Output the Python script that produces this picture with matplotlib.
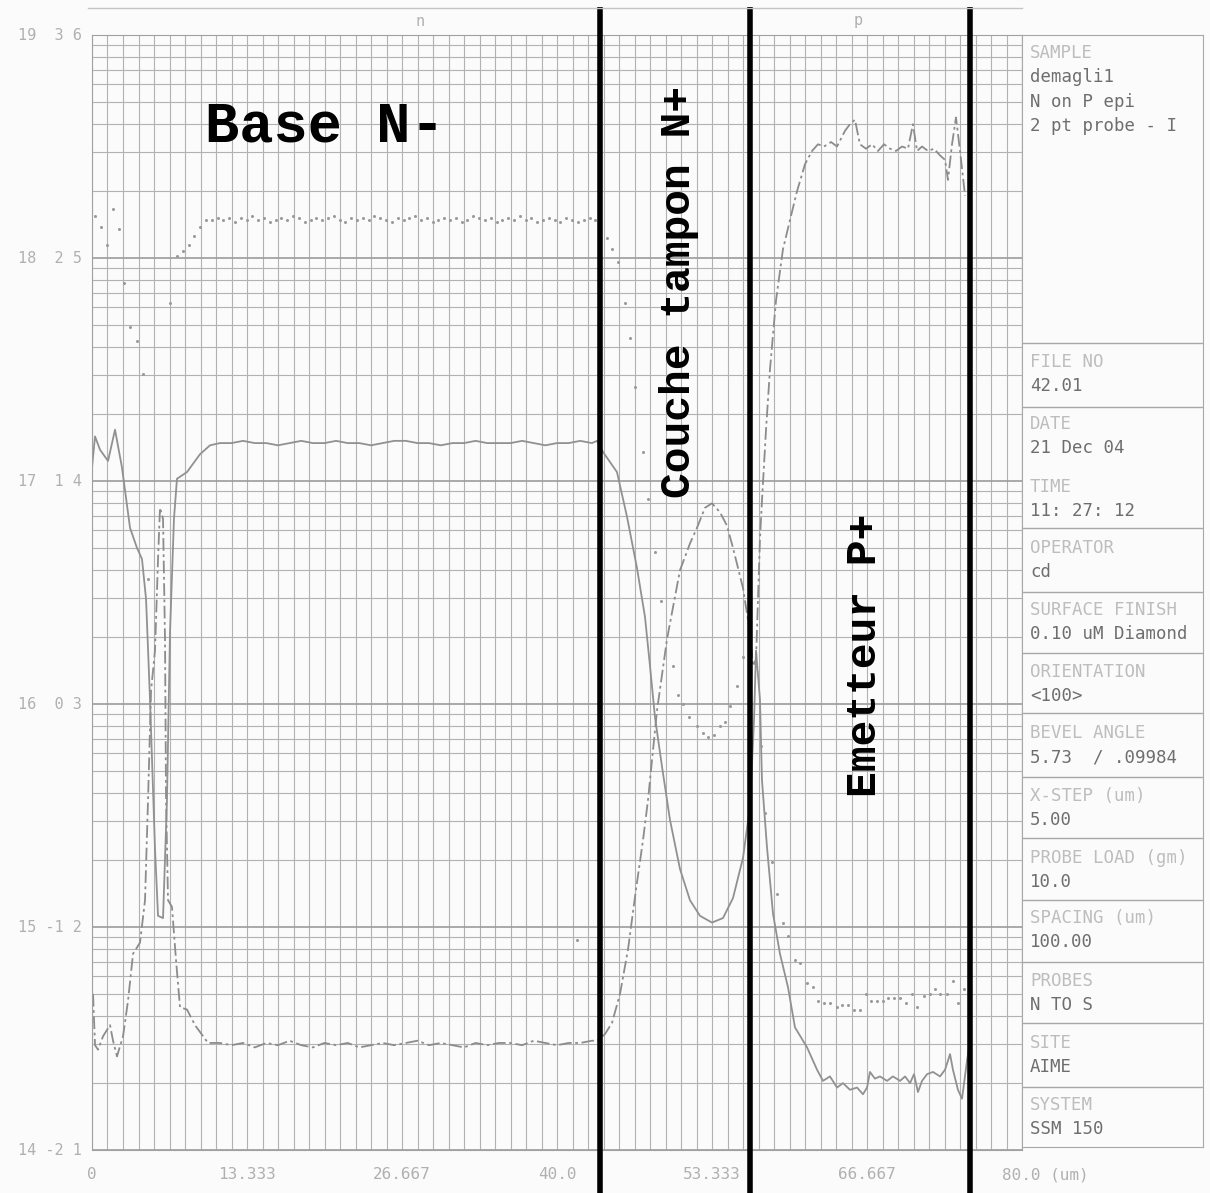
import numpy as np
import matplotlib
matplotlib.use("Agg")
import matplotlib.pyplot as plt
from matplotlib.ticker import FixedLocator, LogLocator, NullFormatter
import matplotlib.transforms as mtrans

# ---- data (x in um, y as log10 of concentration) ----
solid_x = [0, 0.26, 0.69, 1.38, 1.98, 2.58, 3.27, 3.87, 4.30, 4.65, 4.99, 5.42, 5.68, 6.11,
           6.45, 6.71, 7.05, 7.31, 8.17, 9.29, 10.15,
           11, 12, 13, 14, 15, 16, 17, 18, 19, 20, 21, 22, 23, 24, 25, 26, 27, 28, 29, 30,
           31, 32, 33, 34, 35, 36, 37, 38, 39, 40, 41, 42, 43,
           43.44, 43.96, 45.16, 46.02, 46.88, 47.57, 48.0, 48.43, 49.03, 49.72,
           50.58, 51.44, 52.30, 53.33, 54.28, 55.14, 56.0, 56.6, 56.95, 57.12,
           57.46, 57.63, 58.06, 58.58, 59.18, 59.87, 60.47, 61.51, 62.37, 62.88,
           63.48, 64.09, 64.60, 65.20, 65.81, 66.32, 66.67, 66.92, 67.35, 67.78,
           68.39, 68.90, 69.51, 69.94, 70.37, 70.71, 71.05, 71.40, 71.83, 72.34,
           72.95, 73.38, 73.81, 74.06, 74.49, 74.84, 75.27, 75.53]
solid_y = [17.06, 17.20, 17.14, 17.09, 17.23, 17.06, 16.79, 16.70, 16.65, 16.47, 16.02, 15.35,
           15.05, 15.04, 15.57, 16.32, 16.83, 17.01, 17.04, 17.12, 17.16,
           17.17, 17.17, 17.18, 17.17, 17.17, 17.16, 17.17, 17.18, 17.17, 17.17, 17.18,
           17.17, 17.17, 17.16, 17.17, 17.18, 17.18, 17.17, 17.17, 17.16, 17.17, 17.17,
           17.18, 17.17, 17.17, 17.17, 17.18, 17.17, 17.16, 17.17, 17.17, 17.18, 17.17,
           17.18, 17.13, 17.04, 16.84, 16.61, 16.39, 16.17, 15.94, 15.72, 15.48,
           15.26, 15.12, 15.05, 15.02, 15.04, 15.13, 15.31, 15.54, 15.93, 16.24,
           16.02, 15.66, 15.36, 15.06, 14.88, 14.73, 14.55, 14.46, 14.36, 14.31,
           14.33, 14.28, 14.30, 14.27, 14.28, 14.25, 14.28, 14.35, 14.32, 14.33,
           14.31, 14.33, 14.31, 14.33, 14.30, 14.34, 14.26, 14.31, 14.34, 14.35,
           14.33, 14.36, 14.43, 14.36, 14.27, 14.23, 14.40, 14.49]

dash_x = [0.09, 0.26, 0.52, 0.95, 1.55, 1.81, 2.15, 2.67, 3.10, 3.53, 4.13, 4.56, 4.82, 5.08,
          5.42, 5.68, 5.85, 6.11, 6.28, 6.37, 6.54, 6.88, 7.23, 7.57, 8.17, 8.86, 9.98,
          11, 12, 13, 14, 15, 16, 17, 18, 19, 20, 21, 22, 23, 24, 25, 26, 27, 28, 29, 30,
          31, 32, 33, 34, 35, 36, 37, 38, 39, 40, 41, 42, 43, 43.44,
          44.13, 44.73, 45.42, 46.11, 46.80, 47.40, 47.83, 48.60, 49.46, 50.58,
          51.44, 52.04, 52.73, 53.33, 54.02, 54.62, 55.14, 56.0, 56.6, 56.86,
          57.12, 57.29, 57.46, 57.63, 57.98, 58.32, 58.84, 59.44, 60.04, 60.65,
          61.33, 61.94, 62.45, 62.97, 63.57, 64.09, 64.77, 65.20, 65.63, 66.06,
          66.58, 67.10, 67.61, 68.13, 68.65, 69.16, 69.68, 70.19, 70.62, 70.97,
          71.40, 71.91, 72.43, 72.95, 73.38, 73.63, 73.98, 74.32, 74.67, 75.10]
dash_y = [14.70, 14.47, 14.45, 14.51, 14.56, 14.49, 14.42, 14.51, 14.67, 14.88, 14.93, 15.12,
          15.57, 16.06, 16.24, 16.65, 16.88, 16.83, 16.29, 15.57, 15.12, 15.09, 14.85, 14.64,
          14.63, 14.56, 14.48,
          14.48, 14.47, 14.48, 14.46, 14.48, 14.47, 14.49, 14.47, 14.46, 14.48, 14.47,
          14.48, 14.46, 14.47, 14.48, 14.47, 14.48, 14.49, 14.47, 14.48, 14.47, 14.46,
          14.48, 14.47, 14.48, 14.48, 14.47, 14.49, 14.48, 14.47, 14.48, 14.48, 14.49, 14.49,
          14.52, 14.57, 14.70, 14.90, 15.17, 15.39, 15.57, 15.97, 16.29, 16.60,
          16.72, 16.79, 16.88, 16.90, 16.86, 16.80, 16.70, 16.52, 16.32, 16.17,
          16.20, 16.47, 16.74, 16.91, 17.23, 17.50, 17.81, 18.04, 18.17, 18.30,
          18.42, 18.48, 18.51, 18.50, 18.52, 18.50, 18.57, 18.60, 18.62, 18.51,
          18.49, 18.51, 18.48, 18.51, 18.49, 18.48, 18.50, 18.49, 18.60, 18.48,
          18.50, 18.48, 18.49, 18.46, 18.44, 18.35, 18.51, 18.63, 18.48, 18.28]

dots_left_x = [0.26, 0.77, 1.29, 1.81, 2.32, 2.75, 3.27, 3.87, 4.39, 4.82, 6.71, 7.31, 7.83,
               8.34, 8.77, 9.29, 9.81, 10.32]
dots_left_y = [18.19, 18.14, 18.06, 18.22, 18.13, 17.89, 17.69, 17.63, 17.48, 16.56, 17.80,
               18.01, 18.03, 18.06, 18.10, 18.14, 18.17, 18.17]
dots_mid_x = [10.8, 11.3, 11.8, 12.3, 12.8, 13.3, 13.8, 14.3, 14.8, 15.3, 15.8, 16.3, 16.8,
              17.3, 17.8, 18.3, 18.8, 19.3, 19.8, 20.3, 20.8, 21.3, 21.8, 22.3, 22.8, 23.3,
              23.8, 24.3, 24.8, 25.3, 25.8, 26.3, 26.8, 27.3, 27.8, 28.3, 28.8, 29.3, 29.8,
              30.3, 30.8, 31.3, 31.8, 32.3, 32.8, 33.3, 33.8, 34.3, 34.8, 35.3, 35.8, 36.3,
              36.8, 37.3, 37.8, 38.3, 38.8, 39.3, 39.8, 40.3, 40.8, 41.3, 41.8, 42.3, 42.8, 43.3]
dots_mid_y = [18.18, 18.17, 18.18, 18.16, 18.18, 18.17, 18.19, 18.17, 18.18, 18.16,
              18.17, 18.18, 18.17, 18.19, 18.18, 18.16, 18.17, 18.18, 18.17, 18.18,
              18.19, 18.17, 18.16, 18.18, 18.17, 18.18, 18.17, 18.19, 18.18, 18.17,
              18.16, 18.18, 18.17, 18.18, 18.19, 18.17, 18.18, 18.16, 18.17, 18.18,
              18.17, 18.18, 18.16, 18.17, 18.19, 18.18, 18.17, 18.18, 18.16, 18.17,
              18.18, 18.17, 18.19, 18.17, 18.18, 18.16, 18.17, 18.18, 18.17, 18.16,
              18.18, 18.17, 18.16, 18.17, 18.18, 18.17]
dots_right_x = [41.72, 44.30, 44.73, 45.25, 45.85, 46.28, 46.71, 47.40, 47.83, 48.43, 48.95,
                49.98, 50.41, 50.84, 51.35, 52.04, 52.56, 52.99, 53.51, 54.02, 54.45, 54.88,
                55.48, 56.0, 56.43, 57.55, 57.89, 58.49, 58.92, 59.44, 59.87, 60.47, 60.90,
                61.51, 62.02, 62.45, 62.97, 63.48, 64.09, 64.52, 65.03, 65.55, 66.06, 66.58,
                67.01, 67.53, 68.04, 68.47, 68.99, 69.51, 70.02, 70.54, 70.97, 71.57, 72.09,
                72.52, 72.95, 73.55, 74.06, 74.49, 75.01]
dots_right_y = [14.94, 18.09, 18.04, 17.98, 17.80, 17.64, 17.42, 17.13, 16.92, 16.68, 16.46,
                16.17, 16.04, 16.00, 15.94, 15.90, 15.87, 15.85, 15.86, 15.90, 15.92, 15.99,
                16.08, 16.21, 16.38, 15.81, 15.51, 15.29, 15.15, 15.02, 14.96, 14.85, 14.84,
                14.75, 14.73, 14.67, 14.66, 14.66, 14.64, 14.65, 14.65, 14.63, 14.63, 14.70,
                14.67, 14.67, 14.67, 14.68, 14.68, 14.68, 14.66, 14.70, 14.64, 14.69, 14.70,
                14.72, 14.70, 14.70, 14.76, 14.66, 14.72]

decades = [14, 15, 16, 17, 18, 19]
left_labels = ["14 -2 1", "15 -1 2", "16  0 3", "17  1 4", "18  2 5", "19  3 6"]
x_ticks = [0, 13.333, 26.667, 40.0, 53.333, 66.667]
x_ticklabels = ["0", "13.333", "26.667", "40.0", "53.333", "66.667"]
boundaries = [43.7, 56.6, 75.5]

info = [("SAMPLE", ["demagli1", "N on P epi", "2 pt probe - I"]),
        ("FILE NO", ["42.01"]),
        ("DATE", ["21 Dec 04"]),
        ("TIME", ["11: 27: 12"]),
        ("OPERATOR", ["cd"]),
        ("SURFACE FINISH", ["0.10 uM Diamond"]),
        ("ORIENTATION", ["<100>"]),
        ("BEVEL ANGLE", ["5.73  / .09984"]),
        ("X-STEP (um)", ["5.00"]),
        ("PROBE LOAD (gm)", ["10.0"]),
        ("SPACING (um)", ["100.00"]),
        ("PROBES", ["N TO S"]),
        ("SITE", ["AIME"]),
        ("SYSTEM", ["SSM 150"])]

# ---- layout ----
W, H = 1210, 1193
fig = plt.figure(figsize=(W / 100, H / 100), dpi=100, facecolor="#fbfbfb")

def fx(px):
    return px / W

def fy(py):
    return 1 - py / H

grid_col = "#b2b2b2"
lab_col = "#b0b0b0"

ax = fig.add_axes([fx(92), fy(1150), fx(1022) - fx(92), fy(35) - fy(1150)])
ax.set_facecolor("#fbfbfb")
ax.set_xlim(0, 80)
ax.set_yscale("log")
ax.set_ylim(1e14, 1e19)
ax.xaxis.set_major_locator(FixedLocator([k * 80 / 60 for k in range(61)]))
ax.yaxis.set_major_locator(FixedLocator([10.0 ** d for d in decades]))
ax.yaxis.set_minor_locator(LogLocator(base=10, subs=np.arange(2, 10), numticks=20))
ax.yaxis.set_minor_formatter(NullFormatter())
ax.tick_params(which="both", length=0, labelbottom=False, labelleft=False)
ax.grid(which="major", axis="x", color=grid_col, lw=0.8)
ax.grid(which="major", axis="y", color="#9c9c9c", lw=1.2)
ax.grid(which="minor", axis="y", color=grid_col, lw=0.8)
for s in ax.spines.values():
    s.set_color("#a0a0a0")

# curves
ax.plot(solid_x, 10 ** np.array(solid_y), color="#919191", lw=1.3)
ax.plot(dash_x, 10 ** np.array(dash_y), color="#8c8c8c", lw=1.3,
        linestyle=(0, (7, 2, 1.5, 2)))
dots_x = dots_left_x + dots_mid_x + dots_right_x
dots_y = dots_left_y + dots_mid_y + dots_right_y
ax.plot(dots_x, 10 ** np.array(dots_y), linestyle="none", marker="o", ms=2.2,
        color="#9a9a9a", mec="none")

# axis labels
for d, lab in zip(decades, left_labels):
    ax.text(-0.9, 10.0 ** d, lab, ha="right", va="center", color=lab_col,
            family="DejaVu Sans Mono", fontsize=11)
tb = mtrans.blended_transform_factory(ax.transData, ax.transAxes)
for xv, lab in zip(x_ticks, x_ticklabels):
    ax.text(xv, -0.022, lab, ha="center", va="center", transform=tb, color=lab_col,
            family="DejaVu Sans Mono", fontsize=11.5)
ax.text(78.3, -0.022, "80.0 (um)", ha="left", va="center", transform=tb, color=lab_col,
        family="DejaVu Sans Mono", fontsize=11.5)

# thick boundary lines
for xb in boundaries:
    ax.plot([xb, xb], [-0.04, 1.025], transform=tb, color="black", lw=4, clip_on=False,
            solid_capstyle="butt", zorder=5)

# top strip
fig.add_artist(plt.Line2D([fx(88), fx(1022)], [fy(8), fy(8)], color="#c4c4c4", lw=1))
fig.text(fx(420), fy(21), "n", ha="center", va="center", color=lab_col,
         family="DejaVu Sans Mono", fontsize=11)
fig.text(fx(858), fy(21), "p", ha="center", va="center", color=lab_col,
         family="DejaVu Sans Mono", fontsize=11)

# region annotations
fig.text(fx(205), fy(127), "Base N-", ha="left", va="center", family="Liberation Mono",
         fontweight="bold", fontsize=41, color="black")
fig.text(fx(679), fy(292), "Couche tampon N+", ha="center", va="center", rotation=90,
         family="Liberation Mono", fontweight="bold", fontsize=31, color="black")
fig.text(fx(865), fy(655), "Emetteur P+", ha="center", va="center", rotation=90,
         family="Liberation Mono", fontweight="bold", fontsize=31, color="black")

# info panel
pan = fig.add_axes([fx(1022), fy(1147), fx(1203) - fx(1022), fy(35) - fy(1147)])
pan.set_xlim(1022, 1203)
pan.set_ylim(1147, 35)
pan.set_xticks([])
pan.set_yticks([])
pan.set_facecolor("#fbfbfb")
for s in pan.spines.values():
    s.set_color("#a8a8a8")
separators = [343, 407, 528, 592, 653, 713, 777, 838, 900, 962, 1023, 1087]
for sy in separators:
    pan.axhline(sy, color="#a8a8a8", lw=1)
head_y = [53, 362, 424, 487, 548, 610, 672, 733, 796, 858, 918, 981, 1043, 1105]
for (head, vals), hy in zip(info, head_y):
    pan.text(1030, hy, head, ha="left", va="center", color="#bdbdbd",
             family="DejaVu Sans Mono", fontsize=12.5)
    for i, v in enumerate(vals):
        pan.text(1030, hy + 24.5 * (i + 1), v, ha="left", va="center", color="#6e6e6e",
                 family="DejaVu Sans Mono", fontsize=12.5)

fig.savefig("out.png", dpi=100, facecolor=fig.get_facecolor())
